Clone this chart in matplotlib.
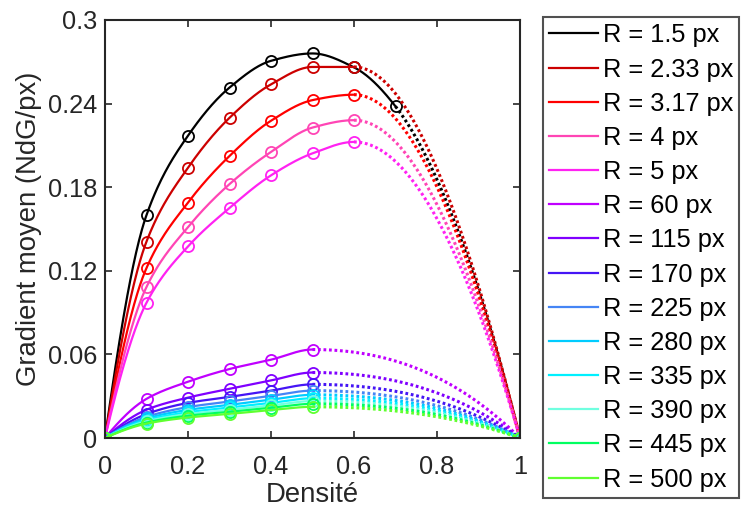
import numpy as np
import matplotlib
matplotlib.use("Agg")
import matplotlib.pyplot as plt

plt.rcParams['font.family'] = ['Liberation Sans', 'DejaVu Sans']

# Densités mesurées (0 et 1 valent toujours 0)
densite = [0.1, 0.2, 0.3, 0.4, 0.5, 0.6, 0.7]

# Gradient moyen relevé pour chaque rayon
g_1_5 = [0.160, 0.217, 0.2515, 0.2707, 0.276, 0.266, 0.238]
g_2_33 = [0.141, 0.194, 0.2298, 0.2538, 0.2663, 0.2663]
g_3_17 = [0.122, 0.169, 0.2024, 0.2277, 0.2425, 0.2464]
g_4 = [0.1084, 0.1514, 0.1822, 0.2053, 0.2228, 0.2281]
g_5 = [0.0971, 0.1375, 0.1651, 0.1885, 0.2043, 0.2125]
g_60 = [0.0281, 0.0404, 0.0495, 0.0562, 0.0635]
g_115 = [0.0203, 0.0290, 0.0353, 0.0413, 0.0470]
g_170 = [0.0172, 0.0252, 0.0295, 0.0340, 0.0385]
g_225 = [0.0152, 0.0222, 0.0262, 0.0302, 0.0340]
g_280 = [0.0140, 0.0202, 0.0238, 0.0275, 0.0310]
g_335 = [0.0129, 0.0185, 0.0219, 0.0252, 0.0285]
g_390 = [0.0120, 0.0172, 0.0203, 0.0234, 0.0265]
g_445 = [0.0111, 0.0160, 0.0188, 0.0217, 0.0245]
g_500 = [0.0103, 0.0147, 0.0173, 0.0200, 0.0224]

rayons = ['1.5', '2.33', '3.17', '4', '5', '60', '115', '170',
          '225', '280', '335', '390', '445', '500']
series = [g_1_5, g_2_33, g_3_17, g_4, g_5, g_60, g_115, g_170,
          g_225, g_280, g_335, g_390, g_445, g_500]
couleurs = ['#000000', '#cc0000', '#ff0000', '#ff45b5', '#ff22f2', '#c000ff',
            '#8000ff', '#4515f5', '#4585f5', '#00ccff', '#00f0ff', '#70ffe0',
            '#00ff60', '#60ff30']

xticks = [0, 0.2, 0.4, 0.6, 0.8, 1]
xticklabels = ['0', '0.2', '0.4', '0.6', '0.8', '1']
yticks = [0, 0.06, 0.12, 0.18, 0.24, 0.3]
yticklabels = ['0', '0.06', '0.12', '0.18', '0.24', '0.3']


# interpolation pchip (comme interp1(...,'pchip') de matlab)
def pchip(xk, yk, xs):
    xk = np.asarray(xk, float)
    yk = np.asarray(yk, float)
    h = np.diff(xk)
    dl = np.diff(yk) / h
    n = len(xk)
    d = np.zeros(n)
    for k in range(1, n - 1):
        if dl[k - 1] * dl[k] > 0:
            w1 = 2 * h[k] + h[k - 1]
            w2 = h[k] + 2 * h[k - 1]
            d[k] = (w1 + w2) / (w1 / dl[k - 1] + w2 / dl[k])

    def bout(h0, h1, d0, d1):
        v = ((2 * h0 + h1) * d0 - h0 * d1) / (h0 + h1)
        if np.sign(v) != np.sign(d0):
            v = 0.0
        elif np.sign(d0) != np.sign(d1) and abs(v) > abs(3 * d0):
            v = 3 * d0
        return v

    d[0] = bout(h[0], h[1], dl[0], dl[1])
    d[-1] = bout(h[-1], h[-2], dl[-1], dl[-2])

    idx = np.clip(np.searchsorted(xk, xs) - 1, 0, n - 2)
    hh = h[idx]
    t = (xs - xk[idx]) / hh
    h00 = 2 * t ** 3 - 3 * t ** 2 + 1
    h10 = t ** 3 - 2 * t ** 2 + t
    h01 = -2 * t ** 3 + 3 * t ** 2
    h11 = t ** 3 - t ** 2
    return (h00 * yk[idx] + h10 * hh * d[idx]
            + h01 * yk[idx + 1] + h11 * hh * d[idx + 1])


fig = plt.figure(figsize=(7.41, 5.13), dpi=100)
ax = fig.add_axes([105 / 741, 75 / 513, 415 / 741, 418 / 513])

handles = []
for r, g, c in zip(rayons, series, couleurs):
    xs = [0.0] + densite[:len(g)] + [1.0]
    ys = [0.0] + list(g) + [0.0]
    xlast = xs[-2]
    x_plein = np.linspace(0, xlast, 300)
    x_point = np.linspace(xlast, 1, 200)
    h, = ax.plot(x_plein, pchip(xs, ys, x_plein), '-', color=c, lw=1.6,
                 label=f'R = {r} px')
    ax.plot(x_point, pchip(xs, ys, x_point), color=c, lw=2.2,
            linestyle=(0, (0.9, 0.9)))
    ax.plot(xs, ys, 'o', color=c, mfc='none', ms=8, mew=1.3)
    handles.append(h)

ax.set_xlim(0, 1)
ax.set_ylim(0, 0.3)
ax.set_xticks(xticks)
ax.set_xticklabels(xticklabels)
ax.set_yticks(yticks)
ax.set_yticklabels(yticklabels)
ax.tick_params(direction='in', top=True, right=True, length=5, width=1.2,
               labelsize=18.3, colors='#262626', labelcolor='#262626')
ax.tick_params(axis='y', pad=5.5)
ax.tick_params(axis='x', pad=12.5)
for s in ax.spines.values():
    s.set_color('#262626')
    s.set_linewidth(1.5)

ax.set_ylabel('Gradient moyen (NdG/px)', fontsize=19.8, color='#262626')
ax.yaxis.set_label_coords(-0.152, 0.5)
ax.set_xlabel('Densité', fontsize=19.8, color='#262626', va='top')
ax.xaxis.set_label_coords(0.5, -0.106)

leg = fig.legend(handles=handles, loc='upper left',
                 bbox_to_anchor=(543 / 741, 1 - 17 / 513),
                 fontsize=18.3, frameon=True, fancybox=False,
                 handlelength=1.9, handletextpad=0.2, labelspacing=0.4,
                 borderpad=0.25, borderaxespad=0)
leg.get_frame().set_edgecolor('#262626')
leg.get_frame().set_linewidth(1.5)

fig.savefig('out.png', dpi=100)
